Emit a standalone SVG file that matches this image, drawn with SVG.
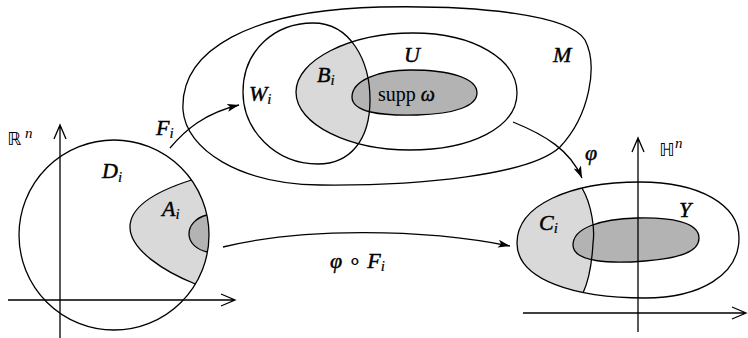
<svg xmlns="http://www.w3.org/2000/svg" width="748" height="338" viewBox="0 0 748 338">
<style>
.ln{fill:none;stroke:#000;stroke-width:1.3}
.ax{fill:none;stroke:#000;stroke-width:1.3}
.lt{fill:#d9d9d9;stroke:none}
.dk{fill:#b3b3b3;stroke:none}
.t{font-family:"Liberation Serif","Times New Roman",serif;font-style:italic;font-size:22px;fill:#000;stroke:#000;stroke-width:0.45}
.s{font-size:15px;stroke-width:0.2}
.r{font-family:"Liberation Serif","Times New Roman",serif;font-size:20px;fill:#000}
.bb{font-family:"DejaVu Sans",sans-serif;font-size:18px;fill:#000}
.sup{font-family:"Liberation Serif","Times New Roman",serif;font-style:italic;font-size:15px;fill:#000}
</style>
<defs>
<marker id="ah" markerUnits="userSpaceOnUse" markerWidth="14" markerHeight="10" refX="12" refY="4" orient="auto">
<path d="M0,0 L12,4 L0,8 L3,4 Z" fill="#000"/>
</marker>
<clipPath id="clipW"><path d="M243,92 C243,50 275,23 313,23 C350,23 370,60 370,100 C370,140 350,164 318,164 C275,164 243,130 243,92 Z"/></clipPath>
<clipPath id="clipE"><path d="M517,243 C517,205 570,182 640,182 C700,182 739,205 739,238 C739,275 700,298 645,298 C575,298 517,280 517,243 Z"/></clipPath>
</defs>

<g id="Rn-panel">
<path class="lt" d="M191.5,180 C160,190 130,205 130,227 C130,250 165,272 195.4,284 A95 95 0 0 0 191.5,180 Z"/>
<path class="dk" d="M206.9,215 C195,218 189,226 189,234 C189,243 197,250 207.5,252 A95 95 0 0 0 206.9,215 Z"/>
<path class="ln" d="M191.5,180 C160,190 130,205 130,227 C130,250 165,272 195.4,284"/>
<path class="ln" d="M206.9,215 C195,218 189,226 189,234 C189,243 197,250 207.5,252"/>
<circle id="Di" class="ln" cx="114" cy="235" r="95"/>
<path class="ax" d="M60,338 L60,125 M54,139 L60,125 L66,139"/>
<path class="ax" d="M8,300 L235,300 M221,294 L235,300 L221,306"/>
<text class="bb" x="7" y="145">ℝ</text><text class="sup" x="25" y="138">n</text>
<text class="t" x="102" y="178">D<tspan class="s" dy="4">i</tspan></text>
<text class="t" x="162" y="216">A<tspan class="s" dy="3">i</tspan></text>
</g>

<g id="M-panel">
<path id="M" class="ln" d="M183,110 C180,50 250,10 380,7 C480,5 570,15 585,40 C598,65 590,115 560,147 C530,175 420,186 320,185 C240,184 186,150 183,110 Z"/>
<path class="lt" clip-path="url(#clipW)" d="M296,92 C296,60 350,33 413,33 C475,33 517,60 517,93 C517,128 470,150 410,150 C350,150 296,125 296,92 Z"/>
<path id="supp" class="dk" d="M352,97 C352,80 380,70 410,70 C450,70 477,78 477,93 C477,106 455,114 417,115 C380,116 352,112 352,97 Z"/>
<path class="ln" d="M352,97 C352,80 380,70 410,70 C450,70 477,78 477,93 C477,106 455,114 417,115 C380,116 352,112 352,97 Z"/>
<path id="U" class="ln" d="M296,92 C296,60 350,33 413,33 C475,33 517,60 517,93 C517,128 470,150 410,150 C350,150 296,125 296,92 Z"/>
<path id="Wi" class="ln" d="M243,92 C243,50 275,23 313,23 C350,23 370,60 370,100 C370,140 350,164 318,164 C275,164 243,130 243,92 Z"/>
<text class="t" x="249" y="101">W<tspan class="s" dy="3">i</tspan></text>
<text class="t" x="317" y="82">B<tspan class="s" dy="3">i</tspan></text>
<text class="t" x="404" y="62">U</text>
<text class="t" x="553" y="62">M</text>
<text class="r" x="378" y="101">supp <tspan style="font-style:italic;stroke:#000;stroke-width:0.45">ω</tspan></text>
</g>

<g id="Hn-panel">
<path class="lt" clip-path="url(#clipE)" d="M500,150 L572,150 L582,188 C592,205 595,230 593,243 C592,262 589,280 583,293 L575,330 L500,330 Z"/>
<path id="Y" class="dk" d="M573,245 C573,228 600,219 637,218 C670,217 699,222 699,238 C699,252 680,258 645,261 C610,264 573,262 573,245 Z"/>
<path class="ln" d="M573,245 C573,228 600,219 637,218 C670,217 699,222 699,238 C699,252 680,258 645,261 C610,264 573,262 573,245 Z"/>
<path class="ln" clip-path="url(#clipE)" d="M572,150 L582,188 C592,205 595,230 593,243 C592,262 589,280 583,293 L575,330"/>
<path class="ln" d="M517,243 C517,205 570,182 640,182 C700,182 739,205 739,238 C739,275 700,298 645,298 C575,298 517,280 517,243 Z"/>
<path class="ax" d="M638,332 L638,138 M632,152 L638,138 L644,152"/>
<path class="ax" d="M523,313 L746,313 M732,307 L746,313 L732,319"/>
<text class="bb" x="659" y="156">ℍ</text><text class="sup" x="675" y="148">n</text>
<text class="t" x="539" y="230">C<tspan class="s" dy="3">i</tspan></text>
<text class="t" x="679" y="217">Y</text>
</g>

<g id="connectors">
<path class="ln" marker-end="url(#ah)" d="M170,148 C185,130 205,113 239,105"/>
<path class="ln" marker-end="url(#ah)" d="M513,122 C545,135 570,150 582,178"/>
<path class="ln" marker-end="url(#ah)" d="M223,247 C300,228 420,228 510,246"/>
<text class="t" x="156" y="135">F<tspan class="s" dy="3">i</tspan></text>
<text class="t" x="585" y="160">φ</text>
<text class="t" x="330" y="268">φ <tspan style="font-style:normal;stroke-width:0.2">∘</tspan> F<tspan class="s" dy="3">i</tspan></text>
</g>
</svg>
